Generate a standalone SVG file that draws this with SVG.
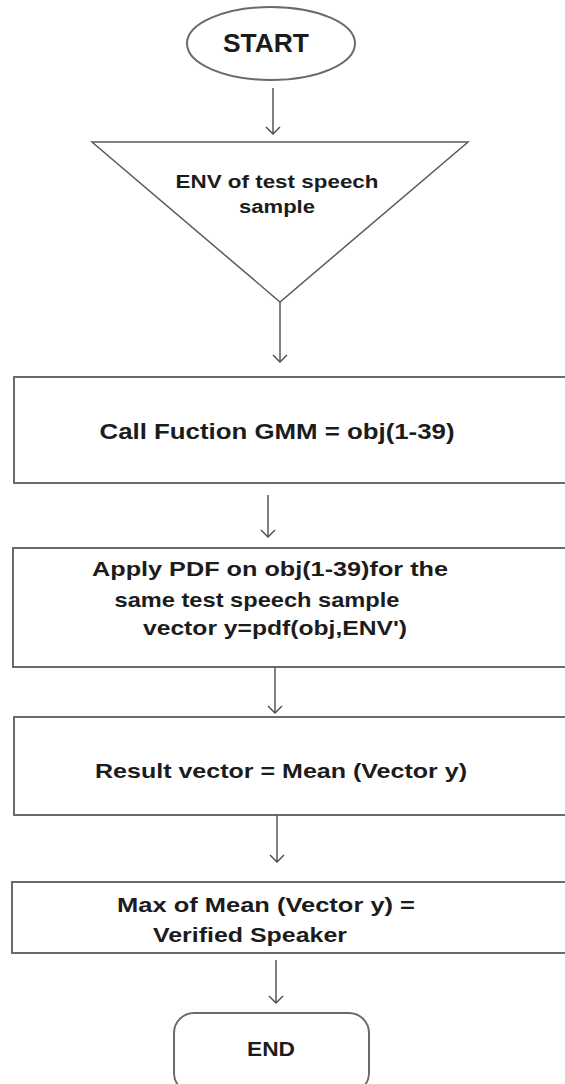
<svg xmlns="http://www.w3.org/2000/svg" width="565" height="1084" viewBox="0 0 565 1084">
<defs>
<style>
.shape{fill:#fff;stroke:#6a6a6a;stroke-width:2}
.tri{fill:#fff;stroke:#5a5a5a;stroke-width:1.5}
.t{font-family:"Liberation Sans",Arial,sans-serif;font-weight:bold;fill:#1c1c1c;text-anchor:middle}
.conn line,.conn polyline{stroke:#4a4a4a;stroke-width:1.4;fill:none}
</style>
</defs>
<rect width="565" height="1084" fill="#fff"/>
<g id="start">
<ellipse class="shape" cx="271" cy="43.5" rx="84" ry="36.5"/>
<text class="t" x="266" y="52" font-size="25" textLength="86" lengthAdjust="spacingAndGlyphs">START</text>
</g>
<g id="env">
<polygon class="tri" points="92,142 468,142 280,302"/>
<text class="t" x="277" y="188" font-size="18" textLength="203" lengthAdjust="spacingAndGlyphs">ENV of test speech</text>
<text class="t" x="277" y="213" font-size="18" textLength="76" lengthAdjust="spacingAndGlyphs">sample</text>
</g>
<g id="gmm">
<rect class="shape" x="14" y="377" width="570" height="106"/>
<text class="t" x="277" y="439" font-size="22" textLength="355" lengthAdjust="spacingAndGlyphs">Call Fuction GMM = obj(1-39)</text>
</g>
<g id="pdf">
<rect class="shape" x="13" y="548" width="570" height="119"/>
<text class="t" x="270" y="576" font-size="21" textLength="356" lengthAdjust="spacingAndGlyphs">Apply PDF on obj(1-39)for the</text>
<text class="t" x="257" y="607" font-size="21" textLength="285" lengthAdjust="spacingAndGlyphs">same test speech sample</text>
<text class="t" x="275" y="635" font-size="21" textLength="264" lengthAdjust="spacingAndGlyphs">vector y=pdf(obj,ENV')</text>
</g>
<g id="result">
<rect class="shape" x="14" y="717" width="570" height="98"/>
<text class="t" x="281" y="778" font-size="21" textLength="372" lengthAdjust="spacingAndGlyphs">Result vector = Mean (Vector y)</text>
</g>
<g id="max">
<rect class="shape" x="12" y="882" width="570" height="71"/>
<text class="t" x="266" y="912" font-size="21" textLength="298" lengthAdjust="spacingAndGlyphs">Max of Mean (Vector y) =</text>
<text class="t" x="250" y="942" font-size="21" textLength="194" lengthAdjust="spacingAndGlyphs">Verified Speaker</text>
</g>
<g id="end">
<rect class="shape" x="174" y="1013" width="195" height="80" rx="20" ry="20"/>
<text class="t" x="271" y="1056" font-size="21" textLength="48" lengthAdjust="spacingAndGlyphs">END</text>
</g>
<g class="conn" id="connectors">
<line x1="273" y1="88" x2="273" y2="134"/><polyline points="266,127 273,134 280,127"/>
<line x1="280" y1="302" x2="280" y2="362"/><polyline points="273,355 280,362 287,355"/>
<line x1="268" y1="495" x2="268" y2="537"/><polyline points="261,530 268,537 275,530"/>
<line x1="275" y1="667" x2="275" y2="713"/><polyline points="268,706 275,713 282,706"/>
<line x1="277" y1="815" x2="277" y2="862"/><polyline points="270,855 277,862 284,855"/>
<line x1="276" y1="960" x2="276" y2="1003"/><polyline points="269,996 276,1003 283,996"/>
</g>
</svg>
